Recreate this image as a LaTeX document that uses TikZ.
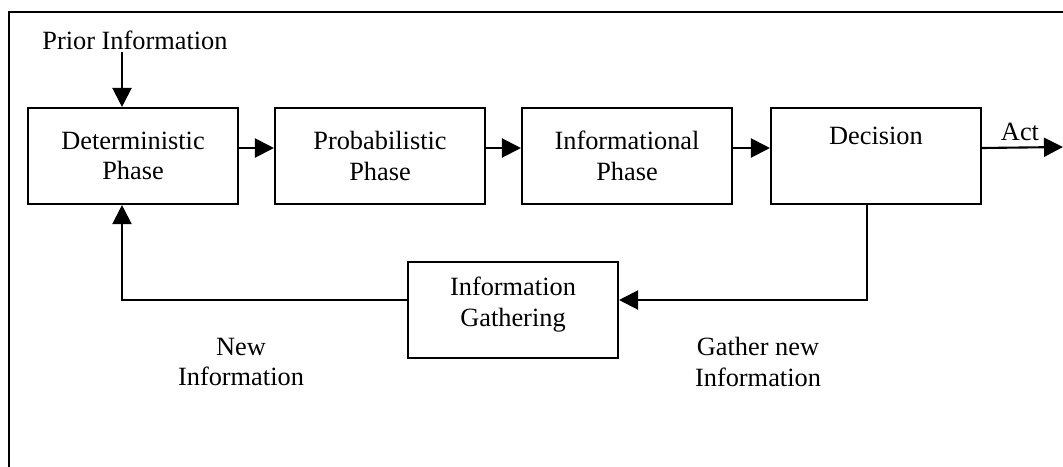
\documentclass[tikz,border=0pt]{standalone}
\usepackage{fontspec}
\setmainfont{Liberation Serif}
\usetikzlibrary{positioning}
\usetikzlibrary{arrows.meta}
\tikzset{
    phase/.style = {rectangle, draw=black, line width=1.2pt, align=center, minimum width=4.2cm, minimum height=1.92cm, inner sep=2pt, font=\fontsize{15}{17.5}\selectfont},
    note/.style = {align=center, draw=none, inner sep=0pt, font=\fontsize{15}{17.5}\selectfont},
    edgen/.style = {-{Triangle[length=0.38cm,width=0.38cm]}, line width=1.2pt},
    frame/.style = {line width=1.2pt}
}
\begin{document}
\begin{tikzpicture}[x=0.02cm,y=-0.02cm]
\useasboundingbox (0,0) rectangle (1063,467);
%
\draw[frame] (9,467) -- (9,12) -- (1063,12);
%
\node[phase] at (133,156) (det) {Deterministic\\Phase};
\node[phase] at (380,156) (prob) {Probabilistic\\Phase};
\node[phase] at (627,156) (info) {Informational\\Phase};
\node[phase] at (876,156) (dec) {Decision\\\strut};
\node[phase] at (513,310) (gath) {Information\\Gathering\\[-8pt]};
%
\node[note] at (135,40) (prior) {Prior Information};
\node[note] at (1020,132) (act) {Act};
\coordinate (actend) at (1063,147);
\node[note] at (241,362) (newinfo) {New\\Information};
\node[note] at (758,362) (gathnew) {Gather new\\Information};
%
\draw[edgen] ([yshift=-0.04cm]prior.south -| 122,0) -- (det.north -| 122,0);
\draw[edgen] ([yshift=0.16cm]det.east) -- ([yshift=0.16cm]prob.west);
\draw[edgen] ([yshift=0.16cm]prob.east) -- ([yshift=0.16cm]info.west);
\draw[edgen] ([yshift=0.16cm]info.east) -- ([yshift=0.16cm]dec.west);
\draw[edgen] ([yshift=0.16cm]dec.east) -- (actend);
\draw[edgen] (dec.south -| 867,0) |- ([yshift=0.2cm]gath.east);
\draw[edgen] ([yshift=0.2cm]gath.west) -| (det.south -| 122,0);
\end{tikzpicture}
\end{document}
